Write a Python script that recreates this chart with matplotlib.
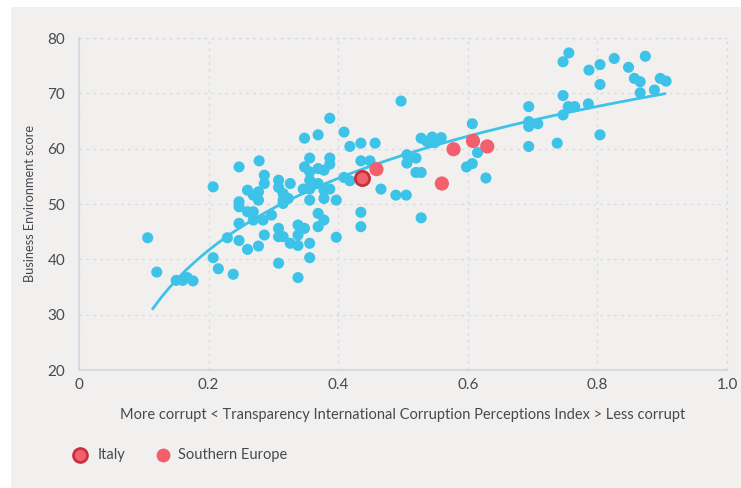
import numpy as np
import matplotlib.pyplot as plt
from matplotlib.patches import Rectangle

# Corruption Perceptions Index (0-1) vs Business Environment score
cpi = [0.106, 0.120, 0.150, 0.160, 0.167, 0.176, 0.207, 0.207, 0.215, 0.238,
       0.229, 0.247, 0.260, 0.277, 0.286, 0.247, 0.247, 0.247, 0.247, 0.260,
       0.269, 0.277, 0.260, 0.269, 0.269, 0.278, 0.286, 0.286, 0.308, 0.308,
       0.326, 0.277, 0.315, 0.323, 0.315, 0.315, 0.297, 0.284, 0.308, 0.308,
       0.315, 0.326, 0.338, 0.356, 0.308, 0.338, 0.356, 0.338, 0.348, 0.338,
       0.369, 0.378, 0.369, 0.397, 0.397, 0.356, 0.348, 0.369, 0.387, 0.409,
       0.418, 0.435, 0.457, 0.356, 0.348, 0.356, 0.387, 0.387, 0.369, 0.378,
       0.356, 0.369, 0.346, 0.356, 0.378, 0.387, 0.378, 0.409, 0.418, 0.435,
       0.449, 0.466, 0.489, 0.505, 0.435, 0.435, 0.528, 0.506, 0.506, 0.520,
       0.520, 0.528, 0.528, 0.545, 0.559, 0.537, 0.549, 0.607, 0.615, 0.598,
       0.607, 0.628, 0.694, 0.694, 0.694, 0.708, 0.694, 0.738, 0.747, 0.747,
       0.755, 0.765, 0.786, 0.804, 0.804, 0.866, 0.888, 0.756, 0.747, 0.787,
       0.804, 0.826, 0.848, 0.874, 0.857, 0.866, 0.897, 0.906, 0.497]
score = [43.9, 37.7, 36.2, 36.2, 36.7, 36.1, 53.1, 40.3, 38.3, 37.3,
         43.9, 43.4, 41.8, 42.4, 44.4, 46.5, 50.4, 49.5, 56.7, 52.5,
         51.6, 52.2, 48.6, 48.6, 47.1, 57.8, 55.2, 53.7, 54.3, 53.0,
         53.7, 50.7, 50.7, 51.0, 50.1, 51.9, 48.0, 47.1, 45.6, 44.1,
         44.1, 42.9, 42.5, 42.9, 39.3, 36.7, 40.3, 46.2, 45.6, 44.4,
         48.3, 47.1, 45.9, 44.0, 50.7, 50.7, 61.9, 62.5, 65.5, 63.0,
         60.4, 61.0, 61.0, 58.3, 56.7, 55.8, 58.3, 57.2, 56.4, 56.1,
         54.3, 53.7, 52.7, 52.7, 52.5, 52.7, 51.0, 54.8, 54.2, 57.8,
         57.8, 52.7, 51.6, 51.6, 48.5, 45.9, 47.5, 58.9, 57.4, 58.3,
         55.7, 55.7, 61.9, 62.1, 62.0, 61.3, 61.1, 64.5, 59.3, 56.7,
         57.3, 54.7, 67.6, 64.9, 64.0, 64.5, 60.4, 61.0, 69.6, 66.1,
         67.6, 67.6, 68.1, 62.5, 71.6, 70.1, 70.6, 77.3, 75.7, 74.2,
         75.2, 76.3, 74.7, 76.7, 72.7, 72.1, 72.7, 72.2, 68.6]

south_cpi = [0.459, 0.578, 0.560, 0.608, 0.630]
south_score = [56.3, 59.9, 53.7, 61.4, 60.4]

italy_cpi = [0.437]
italy_score = [54.7]

blue = '#3EC3E8'
red = '#F2606E'
dark_red = '#C9303F'
text_col = '#454A50'
grid_col = '#D9DCE2'

plt.rcParams['font.family'] = ['Lato', 'DejaVu Sans']

fig = plt.figure(figsize=(7.41, 4.88), dpi=100)
fig.patch.set_facecolor('white')
fig.patches.append(Rectangle((11 / 741, 0), 1, 1 - 7 / 488, transform=fig.transFigure,
                             facecolor='#F1F0EF', edgecolor='none', zorder=-10))

ax = fig.add_axes([79 / 741, 1 - 370 / 488, 648 / 741, 332 / 488])
ax.set_facecolor('none')

# log trend fitted to all points
all_x = np.array(cpi + italy_cpi + south_cpi)
all_y = np.array(score + italy_score + south_score)
b, a = np.polyfit(np.log(all_x), all_y, 1)
xs = np.linspace(0.114, 0.904, 200)
ax.plot(xs, a + b * np.log(xs), color=blue, lw=2, zorder=2)

ax.scatter(cpi, score, s=64, color=blue, edgecolors='none', zorder=3)
ax.scatter(south_cpi, south_score, s=105, color=red, edgecolors='none', zorder=4)
ax.scatter(italy_cpi, italy_score, s=105, color=red, edgecolors=dark_red, linewidths=2, zorder=5)

ax.set_xlim(0, 1)
ax.set_ylim(20, 80)
ax.set_xticks([0, 0.2, 0.4, 0.6, 0.8, 1.0])
ax.set_xticklabels(['0', '0.2', '0.4', '0.6', '0.8', '1.0'])
ax.set_yticks(range(20, 81, 10))
ax.grid(True, color=grid_col, linestyle=(0, (2, 3)), lw=1)
ax.set_axisbelow(True)
for side in ['top', 'right']:
    ax.spines[side].set_visible(False)
for side in ['left', 'bottom']:
    ax.spines[side].set_color('#D6DAE1')
    ax.spines[side].set_linewidth(1.5)
ax.plot([0, 1], [80, 80], color=grid_col, linestyle=(0, (2, 3)), lw=1, clip_on=False)
ax.plot([1, 1], [20, 80], color=grid_col, linestyle=(0, (2, 3)), lw=1, clip_on=False)
ax.tick_params(length=0, labelsize=11, colors=text_col)
ax.tick_params(axis='x', pad=6)
ax.tick_params(axis='y', pad=10)

ax.set_xlabel('More corrupt < Transparency International Corruption Perceptions Index > Less corrupt',
              fontsize=10.5, color=text_col, labelpad=11)
ax.set_ylabel('Business Environment score', fontsize=9.2, color=text_col, labelpad=8)

# legend
ly = 1 - 455 / 488
fig.lines.append(plt.Line2D([80 / 741], [ly], marker='o', ms=10, color=red,
                            markeredgecolor=dark_red, markeredgewidth=2, transform=fig.transFigure))
fig.text(98 / 741, ly, 'Italy', fontsize=10.5, color=text_col, va='center')
fig.lines.append(plt.Line2D([163 / 741], [ly], marker='o', ms=10, color=red,
                            markeredgecolor='none', transform=fig.transFigure))
fig.text(178 / 741, ly, 'Southern Europe', fontsize=10.5, color=text_col, va='center')

fig.savefig('out.png', dpi=100, facecolor=fig.get_facecolor())
